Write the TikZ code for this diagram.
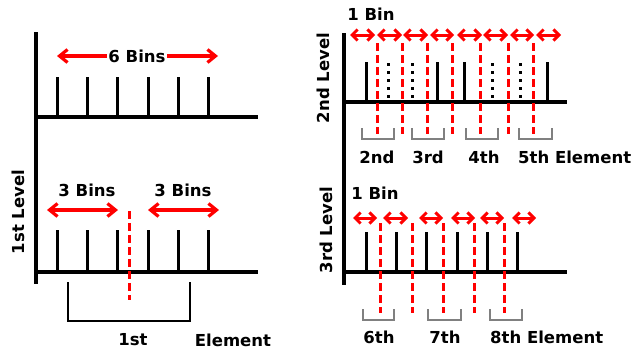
\documentclass[tikz,border=0pt]{standalone}
\usepackage{fontspec}
\setmainfont{DejaVu Sans}
\usetikzlibrary{arrows.meta}
\begin{document}
\begin{tikzpicture}[x=1pt,y=-1pt,
  axis/.style={line width=3.4pt},
  bintick/.style={line width=3pt},
  dotick/.style={line width=3pt, dash pattern=on 3pt off 5pt},
  reddash/.style={red, line width=3pt, dash pattern=on 8pt off 4pt},
  bigarrow/.style={red, line width=3.2pt, {Straight Barb[length=8pt,width=13pt]}-{Straight Barb[length=8pt,width=13pt]}},
  smallarrow/.style={red, line width=3pt, {Straight Barb[length=5.5pt,width=11pt]}-{Straight Barb[length=5.5pt,width=11pt]}},
  brk/.style={gray, line width=1.1pt},
  lbl/.style={font=\fontsize{16.5}{18}\selectfont\bfseries, inner sep=0pt},
]
\useasboundingbox (0,0) rectangle (635,351);
\fill[white] (0,0) rectangle (635,351);

% ---------- left panel ----------
\draw[axis] (36,32) -- (36,284);
\draw[axis] (36,117) -- (258,117);
\foreach \x in {57,87,117,148,178,208} \draw[bintick] (\x,117) -- (\x,77);
\coordinate (a6l) at (57,56); \coordinate (a6r) at (218,56);
\draw[bigarrow] (a6l) -- (a6r);
\node[lbl, fill=white, inner xsep=1pt] (six) at (137,56) {6 Bins};

\draw[axis] (36,272) -- (258,272);
\foreach \x in {57,87,117,148,178,208} \draw[bintick] (\x,272) -- (\x,230);
\coordinate (a3a) at (47,210); \coordinate (a3b) at (118,210);
\coordinate (a3c) at (148,210); \coordinate (a3d) at (219,210);
\draw[bigarrow] (a3a) -- (a3b);
\draw[bigarrow] (a3c) -- (a3d);
\node[lbl] (threeA) at (87,190) {3 Bins};
\node[lbl] (threeB) at (183,190) {3 Bins};
\draw[reddash] (129,211) -- (129,300);
\draw[line width=2.8pt] (68,282) -- (68,321) -- (190,321) -- (190,282);
\node[lbl] (first) at (133,340) {1st};
\node[lbl] (elemA) at (233,340) {Element};
\node[lbl, rotate=90] (lev1) at (18,212) {1st Level};

% ---------- right panel, 2nd level ----------
\draw[axis] (344,33) -- (344,285);
\draw[axis] (344,102) -- (567,102);
\foreach \x in {366,437,464,547} \draw[bintick] (\x,102) -- (\x,62);
\foreach \x in {388,412,492,520} \draw[dotick] (\x,63) -- (\x,102);
\foreach \x in {377,402,427,452,480,508,533} \draw[reddash] (\x,43) -- (\x,134);
\foreach \a/\b in {350/375,377/402,403/428,430/454,457/482,483/508,510/534,536/561}
  \draw[smallarrow] (\a,35) -- (\b,35);
\node[lbl] (bin1) at (371,14) {1 Bin};
\foreach \a/\b in {362/394,412/444,466/498,519/552}
  \draw[brk] (\a,128) -- (\a,139) -- (\b,139) -- (\b,128);
\node[lbl] (e2) at (377,157) {2nd};
\node[lbl] (e3) at (428,157) {3rd};
\node[lbl] (e4) at (484,157) {4th};
\node[lbl, anchor=west] (e5) at (518,157) {5th Element};
\node[lbl, rotate=90] (lev2) at (323,78) {2nd Level};

% ---------- right panel, 3rd level ----------
\draw[axis] (344,272) -- (567,272);
\foreach \x in {366,396,426,457,487,517} \draw[bintick] (\x,272) -- (\x,232);
\foreach \x in {380,412,443,474,504} \draw[reddash] (\x,223) -- (\x,313);
\foreach \a/\b in {353/377,383/408,419/443,451/475,480/504,512/536}
  \draw[smallarrow] (\a,218) -- (\b,218);
\node[lbl] (bin2) at (375,193) {1 Bin};
\foreach \a/\b in {363/394,428/461,490/522}
  \draw[brk] (\a,309) -- (\a,320) -- (\b,320) -- (\b,309);
\node[lbl] (e6) at (379,337) {6th};
\node[lbl] (e7) at (445,337) {7th};
\node[lbl, anchor=west] (e8) at (490,337) {8th Element};
\node[lbl, rotate=90] (lev3) at (326,230) {3rd Level};
\end{tikzpicture}
\end{document}
